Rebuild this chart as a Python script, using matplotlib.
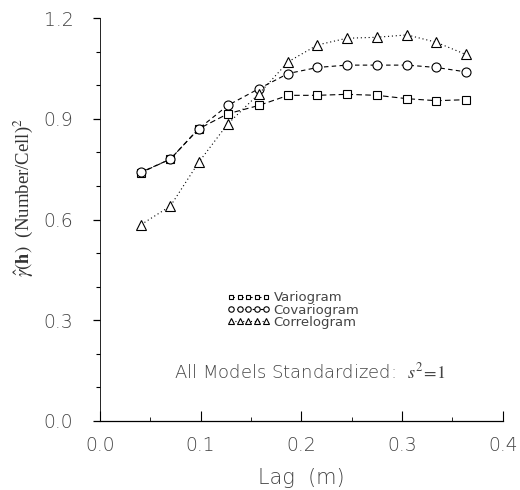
import matplotlib
matplotlib.use('Agg')
import matplotlib.pyplot as plt
from matplotlib.ticker import MultipleLocator

plt.rcParams['mathtext.fontset'] = 'stix'

# lag distances (m)
lag = [0.041, 0.070, 0.098, 0.127, 0.158, 0.187, 0.216, 0.245, 0.275, 0.305, 0.334, 0.363]
variogram = [0.74, 0.78, 0.87, 0.915, 0.94, 0.97, 0.97, 0.973, 0.97, 0.96, 0.954, 0.957]
covariogram = [0.741, 0.78, 0.87, 0.94, 0.99, 1.035, 1.053, 1.06, 1.06, 1.06, 1.053, 1.04]
correlogram = [0.585, 0.64, 0.77, 0.885, 0.975, 1.07, 1.12, 1.14, 1.143, 1.15, 1.128, 1.092]

fig = plt.figure(figsize=(5.2, 4.9), dpi=100)
ax = fig.add_axes([0.192, 0.141, 0.775, 0.822])

kw = dict(color='black', lw=0.8, mfc='white', mec='black', mew=0.8)
ax.plot(lag, variogram, ls=(2, (5, 3)), marker='s', ms=6, label='Variogram', **kw)
ax.plot(lag, covariogram, ls=(2, (4, 3)), marker='o', ms=6.5, label='Covariogram', **kw)
ax.plot(lag, correlogram, ls=(0, (1, 2.5)), marker='^', ms=6.5, label='Correlogram', **kw)

ax.set_xlim(0, 0.4)
ax.set_ylim(0, 1.2)
ax.xaxis.set_major_locator(MultipleLocator(0.1))
ax.xaxis.set_minor_locator(MultipleLocator(0.05))
ax.yaxis.set_major_locator(MultipleLocator(0.3))
ax.yaxis.set_minor_locator(MultipleLocator(0.1))
ax.xaxis.set_major_formatter(plt.FormatStrFormatter('%.1f'))
ax.yaxis.set_major_formatter(plt.FormatStrFormatter('%.1f'))

for s in ['top', 'right']:
    ax.spines[s].set_visible(False)
ax.spines['left'].set_linestyle((0, (2, 1)))
ax.spines['left'].set_linewidth(0.6)
ax.spines['bottom'].set_linewidth(0.9)

ax.tick_params(axis='x', which='major', direction='in', length=7, width=0.8,
               labelsize=13.5, pad=11, labelcolor='#444444')
ax.tick_params(axis='x', which='minor', direction='in', length=3, width=0.6)
ax.tick_params(axis='y', which='major', direction='out', length=5, width=0.9,
               labelsize=13.5, pad=14, labelcolor='#444444')
ax.tick_params(axis='y', which='minor', direction='out', length=3, width=0.8)
for lab in ax.get_xticklabels() + ax.get_yticklabels():
    lab.set_fontweight('light')

ax.set_xlabel('Lag  (m)', fontsize=15, color='#444444', fontweight='light')
ax.xaxis.set_label_coords(0.5, -0.141)
ax.xaxis.label.set_va('center')
ax.set_ylabel(r'$\hat{\gamma}(\mathbf{h})$  (Number/Cell)$^2$', fontsize=13.5,
              family='Liberation Serif', color='#333333')
ax.yaxis.set_label_coords(-0.19, 0.555)
ax.yaxis.label.set_va('center')

leg = ax.legend(loc='center left', bbox_to_anchor=(0.30, 0.275), numpoints=5,
                frameon=False, fontsize=9.5, handlelength=3.2, handletextpad=0.3,
                labelspacing=-0.05, markerscale=0.6, borderpad=0)
for t in leg.get_texts():
    t.set_color('#444444')

ax.text(0.074, 0.146, 'All Models Standardized:  $s^2\\!=\\!1$',
        fontsize=13, color='#444444', fontweight='light', va='center')

fig.savefig('out.png', dpi=100)
